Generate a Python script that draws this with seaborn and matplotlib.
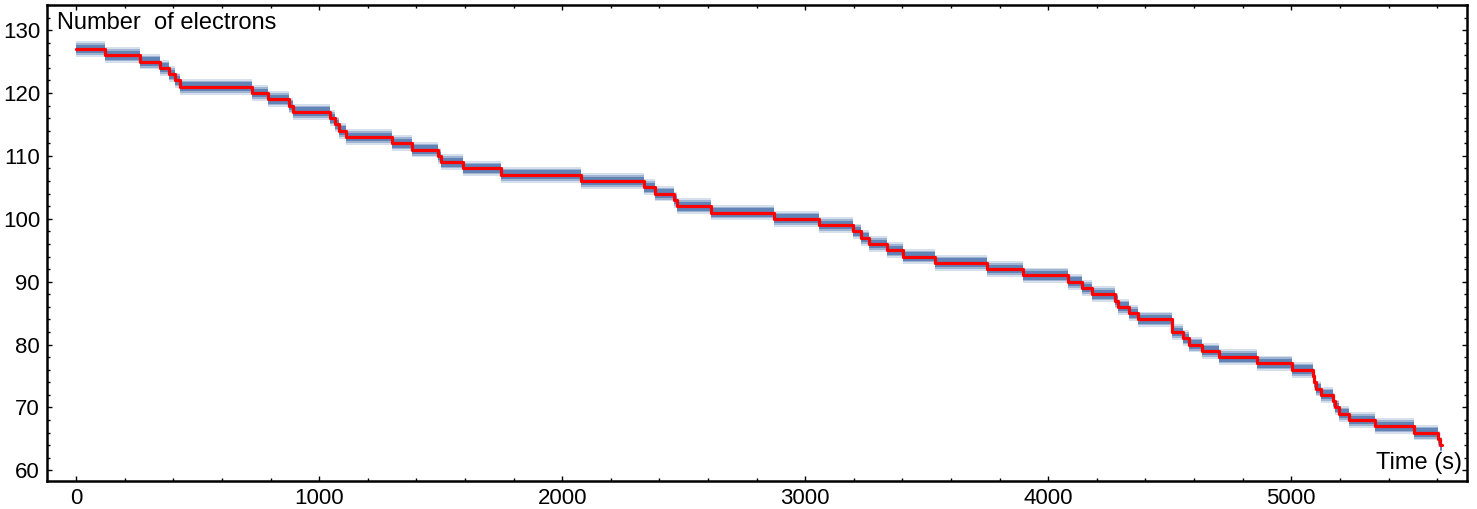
"""
Electron count vs time: raw trace (blue band) with the fitted step levels (red).
Writes out.png
"""

import matplotlib

matplotlib.use("Agg")
import matplotlib.pyplot as plt
import numpy as np
import pandas as pd
import seaborn as sns
from matplotlib.ticker import MultipleLocator

# --- data ------------------------------------------------------------ #
# time (s) at which each plateau begins
step_times = [
    0, 118, 261, 344, 384, 406, 427, 725, 788, 877, 894, 1044, 1067, 1081,
    1110, 1301, 1381, 1490, 1500, 1593, 1748, 2077, 2338, 2380, 2462, 2471,
    2612, 2871, 3056, 3195, 3228, 3263, 3336, 3403, 3533, 3746, 3894, 4080,
    4137, 4178, 4274, 4287, 4331, 4370, 4508, 4553, 4579, 4631, 4702, 4860,
    5004, 5088, 5094, 5100, 5124, 5172, 5178, 5197, 5239, 5344, 5506, 5602,
    5610,
]
# electron number on each plateau
electron_levels = [
    127, 126, 125, 124, 123, 122, 121, 120, 119, 118, 117, 116, 115, 114,
    113, 112, 111, 110, 109, 108, 107, 106, 105, 104, 103, 102,
    101, 100, 99, 98, 97, 96, 95, 94, 93, 92, 91, 90,
    89, 88, 87, 86, 85, 84, 82, 81, 80, 79, 78, 77,
    76, 75, 74, 73, 72, 71, 70, 69, 68, 67, 66, 65,
    64,
]
end_time = 5620

x_ticks = [0, 1000, 2000, 3000, 4000, 5000]
y_ticks = [60, 70, 80, 90, 100, 110, 120, 130]

TRACE_BLUE = "#5E81B5"
FIT_RED = "#FF0000"

# --- style ----------------------------------------------------------- #
sns.set_style("ticks")
plt.rcParams["font.family"] = ["Liberation Sans", "DejaVu Sans"]
plt.rcParams["text.color"] = "black"

df = pd.DataFrame({
    "time": step_times + [end_time],
    "electrons": electron_levels + [electron_levels[-1]],
})

fig = plt.figure(figsize=(14.77, 5.09), dpi=100)
ax = fig.add_axes([47 / 1477, 28 / 509, 1420 / 1477, 476 / 509])

# raw trace, shown as the noise band around each plateau
lv = df["electrons"].to_numpy(dtype=float)
for half, alpha in [(1.25, 0.25), (0.95, 0.45), (0.7, 0.95)]:
    ax.fill_between(df["time"], lv - half, lv + half, step="post",
                    color=TRACE_BLUE, alpha=alpha, linewidth=0)

# fitted steps
sns.lineplot(data=df, x="time", y="electrons", ax=ax, estimator=None,
             drawstyle="steps-post", color=FIT_RED, linewidth=2.3)

ax.set_xlim(-120, 5723)
ax.set_ylim(58.3, 134.0)
ax.set_xticks(x_ticks)
ax.set_yticks(y_ticks)
ax.xaxis.set_minor_locator(MultipleLocator(200))
ax.yaxis.set_minor_locator(MultipleLocator(2))
ax.tick_params(which="both", direction="in", top=True, right=True,
               labeltop=False, labelright=False, width=1.0, pad=5,
               labelsize=16, colors="black")
ax.tick_params(which="major", length=3.5)
ax.tick_params(which="minor", length=2.2)
for sp in ax.spines.values():
    sp.set_visible(True)
    sp.set_linewidth(1.8)
    sp.set_color("black")

ax.set_xlabel("")
ax.set_ylabel("")
ax.text(0.007, 0.963, "Number  of electrons", transform=ax.transAxes,
        ha="left", va="center", fontsize=17, color="black")
ax.text(0.9965, 0.038, "Time (s)", transform=ax.transAxes,
        ha="right", va="center", fontsize=17, color="black")

fig.savefig("out.png", dpi=100)
plt.close(fig)
